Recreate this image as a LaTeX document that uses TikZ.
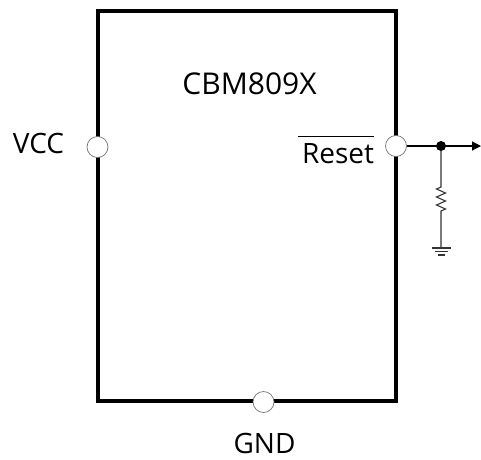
\documentclass[tikz,border=0pt]{standalone}
\usepackage{fontspec}
\setmainfont{Open Sans}
\usetikzlibrary{arrows.meta}
\begin{document}
\begin{tikzpicture}[x=1pt,y=-1pt,
  chip/.style={draw=black, line width=4pt, rectangle, inner sep=0pt, minimum width=298.5pt, minimum height=390.5pt},
  pinc/.style={circle, draw=black!55, fill=white, line width=0.7pt, minimum size=21pt, inner sep=0pt},
  dotc/.style={circle, fill=black, minimum size=10pt, inner sep=0pt},
  lbl/.style={font=\fontsize{28}{30}\selectfont, inner sep=0pt},
  wire/.style={line width=1.1pt, draw=black},
  gwire/.style={line width=1.1pt, draw=black!80}
]
\useasboundingbox (0,0) rectangle (481,459);
\node[chip] (chip) at (246.75,205.75) {};
\node[pinc] (vccpin) at (97.5,147) {};
\node[pinc] (rstpin) at (396,146) {};
\node[pinc] (gndpin) at (263.5,402) {};
\node[lbl, font=\fontsize{30}{32}\selectfont] (title) at (249.5,84) {CBM809X};
\node[lbl] (vcc) at (38.5,143) {VCC};
\node[lbl, anchor=base] (gnd) at (264.5,453) {GND};
\node[lbl, anchor=base] (rst) at (338,163) {Reset};
\draw[line width=1.2pt] ([yshift=6pt,xshift=-4pt]rst.north west) -- ([yshift=6pt]rst.north east);
\node[dotc] (jn) at (441,146) {};
\coordinate (out) at (481,146);
\coordinate (rtop) at (441,187);
\coordinate (rbot) at (441,211);
\coordinate (gp) at (441,248);
\draw[wire, -{Triangle[length=9pt,width=9pt]}] (rstpin.east) -- (out);
\draw[gwire] (jn) -- (rtop) -- ++(-4.5,2) -- ++(9,4) -- ++(-9,4) -- ++(9,4) -- ++(-9,4) -- ++(9,4) -- ++(-4.5,2) -- (rbot) -- (gp);
\draw[gwire] ([xshift=-9.5pt]gp) -- ([xshift=9.5pt]gp);
\draw[gwire] ([xshift=-6.5pt,yshift=-3.5pt]gp) -- ([xshift=6.5pt,yshift=-3.5pt]gp);
\draw[gwire] ([xshift=-3.5pt,yshift=-7pt]gp) -- ([xshift=3.5pt,yshift=-7pt]gp);
\end{tikzpicture}
\end{document}
